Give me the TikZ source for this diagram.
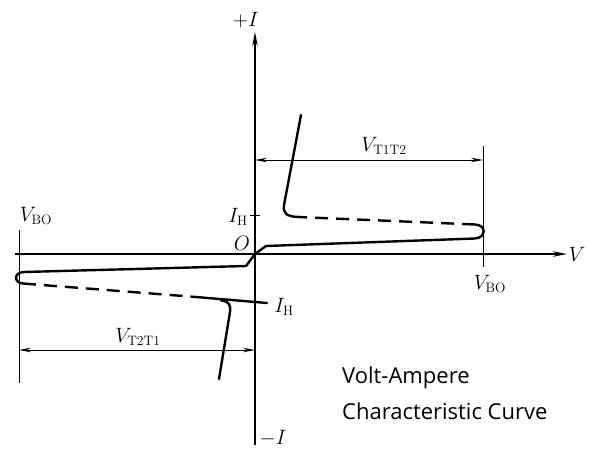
\documentclass[tikz,border=0pt]{standalone}
\usepackage{fontspec}
\newfontfamily\capfont{Open Sans}
\usetikzlibrary{arrows.meta}
\begin{document}
\begin{tikzpicture}[x=1pt,y=-1pt,
  axis/.style={line width=1.2pt,-{Stealth[length=14pt,width=5.5pt]}},
  guide/.style={line width=1pt},
  dim/.style={line width=1pt,{Stealth[length=12pt,width=4.5pt]}-{Stealth[length=12pt,width=4.5pt]}},
  curve/.style={line width=2.4pt,line join=round,line cap=round},
  dcurve/.style={line width=2.4pt,dash pattern=on 13pt off 8pt},
  lbl/.style={font=\fontsize{19.5}{22}\selectfont,inner sep=0pt},
  captext/.style={font=\capfont\fontsize{22}{26}\selectfont,inner sep=0pt,anchor=base west}]
\useasboundingbox (0,0) rectangle (590,463);
% axes
\coordinate (ybot) at (255,445);
\coordinate (ytop) at (255,32);
\coordinate (xl) at (15,254);
\coordinate (xr) at (567,254);
\draw[axis] (ybot) -- (ytop);
\draw[axis] (xl) -- (xr);
\node[lbl] (pI) at (246,20) {$+I$};
\node[lbl] (mI) at (273,438) {$-I$};
\node[lbl] (Vx) at (577,254) {$V$};
\node[lbl] (O) at (242,243) {$O$};
% breakover guides
\coordinate (rvt) at (483,146);
\coordinate (rvb) at (483,267);
\coordinate (lvt) at (19,230);
\coordinate (lvb) at (19,383);
\draw[guide] (rvt) -- (rvb);
\draw[guide] (lvt) -- (lvb);
\node[lbl] (VBOr) at (490,284) {$V_{\mathrm{BO}}$};
\node[lbl] (VBOl) at (36,216) {$V_{\mathrm{BO}}$};
% dimension arrows
\coordinate (d1a) at (255,160);
\coordinate (d1b) at (483,160);
\coordinate (d2a) at (19,350);
\coordinate (d2b) at (255,350);
\draw[dim] (d1a) -- (d1b);
\draw[dim] (d2a) -- (d2b);
\node[lbl] (VT1T2) at (384,146) {$V_{\mathrm{T1T2}}$};
\node[lbl] (VT2T1) at (138,337) {$V_{\mathrm{T2T1}}$};
% holding current marks
\coordinate (tk1) at (250,215);
\coordinate (tk2) at (260,215);
\draw[guide] (tk1) -- (tk2);
\node[lbl] (IHu) at (238,217) {$I_{\mathrm{H}}$};
\node[lbl] (IHl) at (284,307) {$I_{\mathrm{H}}$};
% upper curve
\draw[curve] (255,254) -- (266,246) -- (475,238.5)
  .. controls (486,238) and (487,225) .. (475,224.5);
\draw[dcurve] (475,224.5) -- (298,217);
\draw[curve] (298,217) .. controls (286,216.5) and (283,213) .. (284,205) -- (301,115);
% lower curve
\draw[curve] (255,254) -- (246,266) -- (24,272)
  .. controls (13,272.5) and (14,283) .. (23,283.5);
\draw[dcurve] (23,283.5) -- (196,297);
\draw[curve] (196,297) -- (267,303);
\draw[curve] (221,300.5) .. controls (229,301) and (231,305) .. (230,312) -- (219,379);
% caption
\node[captext] (c1) at (342,383) {Volt-Ampere};
\node[captext] (c2) at (342,419) {Characteristic Curve};
\end{tikzpicture}
\end{document}
